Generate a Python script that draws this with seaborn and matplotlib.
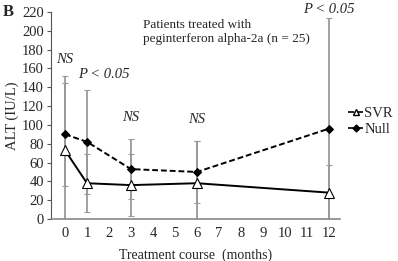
import pandas as pd
import matplotlib
matplotlib.use("Agg")
import matplotlib.pyplot as plt
from matplotlib import font_manager
from matplotlib.lines import Line2D
import seaborn as sns

# Data
months = [0, 1, 3, 6, 12]
svr_mean = [73, 38, 36, 38, 28]
svr_sd = [79, 31, 33, 45, 29]
null_mean = [90, 82, 53, 50, 96]
null_sd = [55, 55, 32, 33, 118]
sig_labels = ["NS", "P < 0.05", "NS", "NS", "P < 0.05"]
sig_x = [0, 1.75, 3, 6, 12]
sig_y = [170, 154, 108, 106, 223]

df = pd.DataFrame({
    "Month": months * 2,
    "ALT": svr_mean + null_mean,
    "SD": svr_sd + null_sd,
    "Group": ["SVR"] * len(months) + ["Null"] * len(months),
})

sns.set_style("ticks")
# pick a Times-like serif if one is installed
names = sorted({f.name for f in font_manager.fontManager.ttflist})
serif = [n for n in names if "Liberation Serif" in n or "Times" in n]
plt.rcParams['font.family'] = serif[:1] + ['DejaVu Serif']

fig = plt.figure(figsize=(3.98, 2.61), dpi=100)
ax = fig.add_axes([0.128, 0.161, 0.726, 0.793])

# error bars first, so lines sit on top
for grp in ["Null", "SVR"]:
    sub = df[df["Group"] == grp]
    ax.errorbar(sub["Month"], sub["ALT"], yerr=sub["SD"], fmt="none",
                ecolor="#9a9a9a", elinewidth=1.3, capsize=2, capthick=0.8,
                zorder=1)

sns.lineplot(data=df, x="Month", y="ALT", style="Group", hue="Group",
             palette={"SVR": "black", "Null": "black"},
             markers={"SVR": "^", "Null": "D"},
             dashes={"SVR": "", "Null": (3, 1.5)},
             linewidth=1.4, ax=ax, legend=False, zorder=3)

# SVR open triangle, Null filled diamond
for ln in ax.get_lines():
    if ln.get_marker() == "^":
        ln.set_markerfacecolor("white")
        ln.set_markeredgecolor("black")
        ln.set_markersize(6.5)
        ln.set_markeredgewidth(0.8)
    elif ln.get_marker() == "D":
        ln.set_markerfacecolor("black")
        ln.set_markeredgecolor("black")
        ln.set_markersize(4.5)

ax.set_xlim(-0.64, 12.5)
ax.set_ylim(0, 220)
ax.set_xticks(range(0, 13))
ax.set_yticks(range(0, 221, 20))
ax.tick_params(axis="x", length=0, labelsize=10.5, pad=6)
ax.tick_params(axis="y", length=3, labelsize=10.5, color="#555555", pad=2)
for side in ["top", "right"]:
    ax.spines[side].set_visible(False)
ax.spines["left"].set_color("#555555")
ax.spines["bottom"].set_color("#888888")
ax.spines["bottom"].set_linewidth(1.2)

ax.set_xlabel("Treatment course  (months)", fontsize=10, labelpad=6)
ax.set_ylabel("ALT (IU/L)", fontsize=10.5, labelpad=2)

for lab, xx, yy in zip(sig_labels, sig_x, sig_y):
    ax.text(xx, yy, lab, style="italic", fontsize=10.5, ha="center",
            va="center", clip_on=False)

ax.text(0.32, 0.965, "Patients treated with\npeginterferon alpha-2a (n = 25)",
        transform=ax.transAxes, fontsize=9.5, ha="left", va="top",
        linespacing=1.2)

fig.text(0.008, 0.955, "B", fontsize=12, fontweight="bold", ha="left",
         va="center")

# legend outside on the right
handles = [
    Line2D([], [], color="black", lw=1.2, marker="^", markersize=5,
           markerfacecolor="white", markeredgecolor="black", linestyle="--"),
    Line2D([], [], color="black", lw=1.2, marker="D", markersize=3.5,
           markerfacecolor="black", linestyle="--"),
]
fig.legend(handles, ["SVR", "Null"], loc="center left",
           bbox_to_anchor=(0.875, 0.535), frameon=False, fontsize=10.5,
           handlelength=1.0, handletextpad=0.1, labelspacing=0.2,
           borderpad=0, borderaxespad=0)

fig.savefig("out.png", dpi=100)
